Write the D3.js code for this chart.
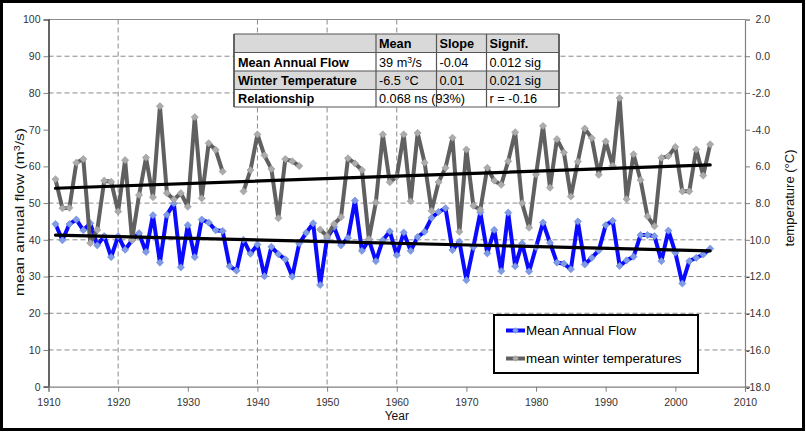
<!DOCTYPE html>
<html>
<head>
<meta charset="utf-8">
<script src="https://cdn.jsdelivr.net/npm/d3@7"></script>
<style>
  html, body { margin: 0; padding: 0; background: #fff; }
  svg { display: block; font-family: "Liberation Sans", Arial, sans-serif; }
</style>
</head>
<body>
<svg id="chart" width="806" height="432"></svg>
<script>
// ---------------- DATA ----------------
const years = [1911,1912,1913,1914,1915,1916,1917,1918,1919,1920,
  1921,1922,1923,1924,1925,1926,1927,1928,1929,1930,
  1931,1932,1933,1934,1935,1936,1937,1938,1939,1940,
  1941,1942,1943,1944,1945,1946,1947,1948,1949,1950,
  1951,1952,1953,1954,1955,1956,1957,1958,1959,1960,
  1961,1962,1963,1964,1965,1966,1967,1968,1969,1970,
  1971,1972,1973,1974,1975,1976,1977,1978,1979,1980,
  1981,1982,1983,1984,1985,1986,1987,1988,1989,1990,
  1991,1992,1993,1994,1995,1996,1997,1998,1999,2000,
  2001,2002,2003,2004,2005];

// mean annual flow (m3/s), left axis
const flow = [44.3,39.9,44.3,45.5,42.6,44.5,38.5,41.0,35.3,41.0,
  37.3,39.9,41.8,36.7,46.7,33.8,46.8,49.9,32.5,44.0,
  35.3,45.5,44.7,42.6,42.4,32.8,31.6,40.0,36.2,38.7,
  30.1,38.1,36.1,34.7,30.0,39.0,41.9,44.5,27.7,40.5,
  43.5,38.5,40.5,50.7,37.0,40.0,34.2,39.9,42.3,35.8,
  42.0,37.0,40.8,42.2,46.0,47.6,48.6,37.2,39.5,29.0,
  38.0,47.5,36.3,42.7,31.5,47.4,32.8,39.0,31.4,38.0,
  44.7,39.2,33.8,33.5,32.0,45.0,33.3,35.1,37.1,44.0,
  45.2,32.9,34.4,35.4,41.3,41.3,41.0,34.2,42.5,36.5,
  28.1,34.2,35.1,36.0,37.6];

// mean winter temperature (deg C), right axis (null = missing year)
const temp = [-6.70,-8.28,-8.26,-5.80,-5.60,-10.18,-9.46,-6.78,-6.84,-8.46,
  -5.66,-10.00,-7.56,-5.52,-7.68,-2.72,-7.46,-7.80,-7.46,-8.20,
  -3.32,-7.74,-4.74,-5.10,-6.28,null,null,-7.36,-6.20,-4.26,
  -5.40,-6.14,-8.82,-5.60,-5.72,-5.98,null,null,-9.44,-9.80,
  -9.14,-8.76,-5.56,-5.84,-6.20,-9.96,-7.96,-4.26,-6.86,-6.56,
  -4.26,-7.90,-4.18,-5.80,-8.42,-6.86,-6.08,-4.44,-9.56,-5.08,
  -8.14,-8.36,-6.08,-6.78,-7.00,-5.72,-4.14,-8.00,-9.34,-6.44,
  -3.80,-7.16,-4.52,-5.24,-7.64,-5.74,-3.94,-4.46,-6.46,-4.64,
  -5.96,-2.28,-7.78,-5.34,-6.74,-8.72,-9.26,-5.54,-5.44,-4.94,
  -7.36,-7.36,-5.08,-6.50,-4.80];

// linear trend end points
const trendYears = [1911, 2005];
const trendFlow = [41.3, 37.0];
const trendTemp = [-7.19, -5.92];

// axis ticks
const xTicks = [1910,1920,1930,1940,1950,1960,1970,1980,1990,2000,2010];
const leftTicks = [0,10,20,30,40,50,60,70,80,90,100];
const rightTickValues = [2,0,-2,-4,-6,-8,-10,-12,-14,-16,-18];
const rightTickLabels = ["2.0","0.0","-2.0","-4.0","6.0","8.0","10.0","-12.0","-14.0","-16.0","-18.0"];
const hGridValues = [10,20,30,40,50,80,90];
const vGridValues = [1920,1940,1950,1960];

// statistics table
const tableHeader = ["", "Mean", "Slope", "Signif."];
const tableRows = [
  ["Mean Annual Flow", "39 m³/s", "-0.04", "0.012 sig"],
  ["Winter Temperature", "-6.5 °C", "0.01", "0.021 sig"],
  ["Relationship", "0.068 ns (93%)", "", "r = -0.16"]
];
const seriesNames = ["Mean Annual Flow", "mean winter temperatures"];

// ---------------- LAYOUT ----------------
const svg = d3.select("#chart");
const L = 48.5, R = 745, T = 19.5, B = 386.7;
const x = d3.scaleLinear().domain([1910, 2010]).range([L, R]);
const yL = d3.scaleLinear().domain([0, 100]).range([B, T]);
const yR = d3.scaleLinear().domain([-18, 2]).range([B, T]);

svg.append("rect").attr("x",0).attr("y",0).attr("width",806).attr("height",432).attr("fill","#fff");

// gridlines
const grid = svg.append("g");
grid.selectAll("line.h").data(hGridValues).join("line")
  .attr("x1", L).attr("x2", R).attr("y1", d => yL(d)).attr("y2", d => yL(d))
  .attr("stroke", "#8a8a8a").attr("stroke-width", 1).attr("stroke-dasharray", "5,3");
grid.selectAll("line.v").data(vGridValues).join("line")
  .attr("y1", T).attr("y2", B).attr("x1", d => x(d)).attr("x2", d => x(d))
  .attr("stroke", "#8a8a8a").attr("stroke-width", 1).attr("stroke-dasharray", "5,3");
grid.append("line").attr("x1", L).attr("x2", R).attr("y1", yL(100)).attr("y2", yL(100))
  .attr("stroke", "#8a8a8a").attr("stroke-width", 1);

// axes
const fontTick = 10.5;
const axL = svg.append("g").attr("transform", `translate(${L},0)`)
  .call(d3.axisLeft(yL).tickValues(leftTicks).tickSize(5).tickFormat(d3.format("d")));
const axR = svg.append("g").attr("transform", `translate(${R},0)`)
  .call(d3.axisRight(yR).tickValues(rightTickValues).tickSize(5)
    .tickFormat(d => rightTickLabels[rightTickValues.indexOf(d)]));
const axB = svg.append("g").attr("transform", `translate(0,${B})`)
  .call(d3.axisBottom(x).tickValues(xTicks).tickSize(5).tickFormat(d3.format("d")));
[axL, axR, axB].forEach(a => {
  a.select(".domain").attr("stroke", "#808080").attr("stroke-width", 1.2);
  a.selectAll(".tick line").attr("stroke", "#808080");
  a.selectAll(".tick text").attr("fill", "#333").attr("font-size", fontTick)
    .attr("font-family", "Liberation Sans, Arial, sans-serif");
});
axL.select(".domain").attr("stroke", "#000");
axL.selectAll(".tick text").attr("x", -8);
axR.selectAll(".tick text").attr("x", 25).attr("text-anchor", "end");
axB.selectAll(".tick text").attr("y", 12);

// axis titles
svg.append("text").attr("transform", `translate(24,212) rotate(-90)`)
  .attr("text-anchor", "middle").attr("font-size", 13).attr("fill", "#111")
  .attr("textLength", 168).attr("lengthAdjust", "spacingAndGlyphs")
  .html('mean annual flow (m<tspan dy="-4" font-size="9">3</tspan><tspan dy="4">/s)</tspan>');
svg.append("text").attr("transform", `translate(794,198) rotate(-90)`)
  .attr("text-anchor", "middle").attr("font-size", 13).attr("fill", "#111")
  .text("temperature (°C)");
svg.append("text").attr("x", x(1960)).attr("y", 420).attr("text-anchor", "middle")
  .attr("font-size", 12).attr("fill", "#111").text("Year");

// series
const diamond = r => `M0,${-r}L${r},0L0,${r}L${-r},0Z`;
const flowData = years.map((yr, i) => ({yr, v: flow[i]}));
const tempData = years.map((yr, i) => ({yr, v: temp[i]}));

const lineFlow = d3.line().x(d => x(d.yr)).y(d => yL(d.v));
const lineTemp = d3.line().defined(d => d.v !== null).x(d => x(d.yr)).y(d => yR(d.v));

svg.append("path").datum(flowData).attr("d", lineFlow)
  .attr("fill", "none").attr("stroke", "#0a0aff").attr("stroke-width", 4).attr("stroke-linejoin", "round");
svg.append("g").selectAll("path").data(flowData).join("path")
  .attr("transform", d => `translate(${x(d.yr)},${yL(d.v)})`)
  .attr("d", diamond(3.6)).attr("fill", "#7f9be6").attr("stroke", "#6a86d8").attr("stroke-width", 0.6);

svg.append("path").datum(tempData).attr("d", lineTemp)
  .attr("fill", "none").attr("stroke", "#606060").attr("stroke-width", 4).attr("stroke-linejoin", "round");
svg.append("g").selectAll("path").data(tempData.filter(d => d.v !== null)).join("path")
  .attr("transform", d => `translate(${x(d.yr)},${yR(d.v)})`)
  .attr("d", diamond(3.6)).attr("fill", "#ababab").attr("stroke", "#999").attr("stroke-width", 0.6);

// trend lines
svg.append("line").attr("x1", x(trendYears[0])).attr("x2", x(trendYears[1]))
  .attr("y1", yL(trendFlow[0])).attr("y2", yL(trendFlow[1]))
  .attr("stroke", "#000").attr("stroke-width", 3.2).attr("stroke-linecap", "round");
svg.append("line").attr("x1", x(trendYears[0])).attr("x2", x(trendYears[1]))
  .attr("y1", yR(trendTemp[0])).attr("y2", yR(trendTemp[1]))
  .attr("stroke", "#000").attr("stroke-width", 3.2).attr("stroke-linecap", "round");

// table
const colX = [234, 376, 436.5, 486.5, 559];
const rowY = [34, 52.5, 71, 89.5, 107];
const tbl = svg.append("g");
const rowFill = ["#d9d9d9", "#ffffff", "#d9d9d9", "#ffffff"];
rowFill.forEach((f, r) => {
  tbl.append("rect").attr("x", colX[0]).attr("y", rowY[r]).attr("width", colX[4]-colX[0])
    .attr("height", rowY[r+1]-rowY[r]).attr("fill", f);
});
rowY.forEach(yy => tbl.append("line").attr("x1", colX[0]).attr("x2", colX[4]).attr("y1", yy).attr("y2", yy)
  .attr("stroke", "#555").attr("stroke-width", 1.2));
colX.forEach((xx, c) => tbl.append("line").attr("x1", xx).attr("x2", xx).attr("y1", rowY[0]).attr("y2", rowY[4])
  .attr("stroke", "#555").attr("stroke-width", c === 0 || c === 4 ? 1.8 : 1.2));
const allRows = [tableHeader].concat(tableRows);
allRows.forEach((row, r) => {
  row.forEach((txt, c) => {
    if (!txt) return;
    const t = tbl.append("text").attr("x", colX[c] + (c === 0 ? 4 : 3)).attr("y", rowY[r+1] - 4.5)
      .attr("font-size", 12.7).attr("fill", "#000")
      .attr("font-weight", (r === 0 || c === 0) ? "bold" : "normal");
    if (txt === "39 m³/s") {
      t.html('39 m<tspan dy="-4" font-size="8.5">3</tspan><tspan dy="4">/s</tspan>');
    } else t.text(txt);
  });
});

// legend
const lg = svg.append("g");
lg.append("rect").attr("x", 494).attr("y", 315).attr("width", 204).attr("height", 58)
  .attr("fill", "#fff").attr("stroke", "#000").attr("stroke-width", 2);
const lgY = [330.5, 358.5];
const lgCol = [["#0a0aff", "#7f9be6"], ["#606060", "#ababab"]];
seriesNames.forEach((nm, i) => {
  lg.append("line").attr("x1", 506).attr("x2", 525).attr("y1", lgY[i]).attr("y2", lgY[i])
    .attr("stroke", lgCol[i][0]).attr("stroke-width", 4);
  lg.append("path").attr("transform", `translate(515.5,${lgY[i]})`).attr("d", diamond(3.2))
    .attr("fill", lgCol[i][1]);
  lg.append("text").attr("x", 526).attr("y", lgY[i] + 4.8).attr("font-size", 13.4).attr("fill", "#000").text(nm);
});

// outer frame
svg.append("rect").attr("x", 1.5).attr("y", 1.5).attr("width", 802).attr("height", 428)
  .attr("fill", "none").attr("stroke", "#000").attr("stroke-width", 3);
</script>
</body>
</html>
